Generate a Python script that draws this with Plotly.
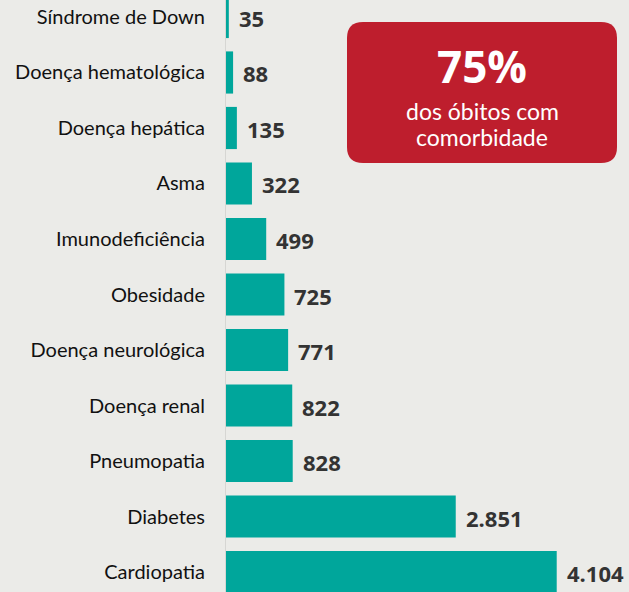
import plotly.graph_objects as go

categories = ["Cardiopatia", "Diabetes", "Pneumopatia", "Doença renal", "Doença neurológica",
              "Obesidade", "Imunodeficiência", "Asma", "Doença hepática",
              "Doença hematológica", "Síndrome de Down"]
values = [4104, 2851, 828, 822, 771, 725, 499, 322, 135, 88, 35]
value_labels = ["4.104", "2.851", "828", "822", "771", "725", "499", "322", "135", "88", "35"]
box_big = "75%"
box_lines = ["dos óbitos com", "comorbidade"]

BG = "#ebebe8"
TEAL = "#00a69b"
RED = "#be1e2d"

fig = go.Figure()
fig.add_trace(go.Bar(
    x=values, y=categories, orientation="h",
    marker=dict(color=TEAL, line=dict(width=0)),
    width=0.76, hoverinfo="skip",
))

for v, c, t in zip(values, categories, value_labels):
    fig.add_annotation(x=v, y=c, text=f"<b>{t}</b>", showarrow=False,
                       xanchor="left", yanchor="middle", xshift=8, yshift=-1,
                       font=dict(family="Open Sans", size=22, color="#333333"))

# rounded red box (paper coords)
L, Wd, H = 226, 403, 592
def px(x):
    return (x - L) / Wd
def py(y):
    return (H - y) / H
x0, x1, y0, y1, r = 347, 617, 22, 163, 16
path = (f"M {px(x0 + r)},{py(y0)} L {px(x1 - r)},{py(y0)} "
        f"Q {px(x1)},{py(y0)} {px(x1)},{py(y0 + r)} "
        f"L {px(x1)},{py(y1 - r)} Q {px(x1)},{py(y1)} {px(x1 - r)},{py(y1)} "
        f"L {px(x0 + r)},{py(y1)} Q {px(x0)},{py(y1)} {px(x0)},{py(y1 - r)} "
        f"L {px(x0)},{py(y0 + r)} Q {px(x0)},{py(y0)} {px(x0 + r)},{py(y0)} Z")
fig.add_shape(type="path", path=path, xref="paper", yref="paper",
              fillcolor=RED, line=dict(width=0), layer="above")
fig.add_annotation(x=px(482), y=py(66), xref="paper", yref="paper", text=f"<b>{box_big}</b>",
                   showarrow=False, xanchor="center", yanchor="middle",
                   font=dict(family="Open Sans", size=44, color="white"))
for line, yy in zip(box_lines, [111, 137]):
    fig.add_annotation(x=px(482), y=py(yy), xref="paper", yref="paper", text=line,
                       showarrow=False, xanchor="center", yanchor="middle",
                       font=dict(family="Lato", size=23, color="white"))

fig.update_layout(
    width=629, height=592,
    margin=dict(l=226, r=0, t=0, b=0),
    paper_bgcolor=BG, plot_bgcolor=BG,
    showlegend=False,
    xaxis=dict(range=[0, 5001], visible=False, fixedrange=True),
    yaxis=dict(range=[-0.36, 10.306], showgrid=False, zeroline=False,
               showline=True, linecolor="#d6d6d3", linewidth=1,
               ticks="outside", ticklen=16, tickcolor="rgba(0,0,0,0)",
               tickfont=dict(family="Lato", size=20, color="#111111")),
)

fig.write_html("out.html")
